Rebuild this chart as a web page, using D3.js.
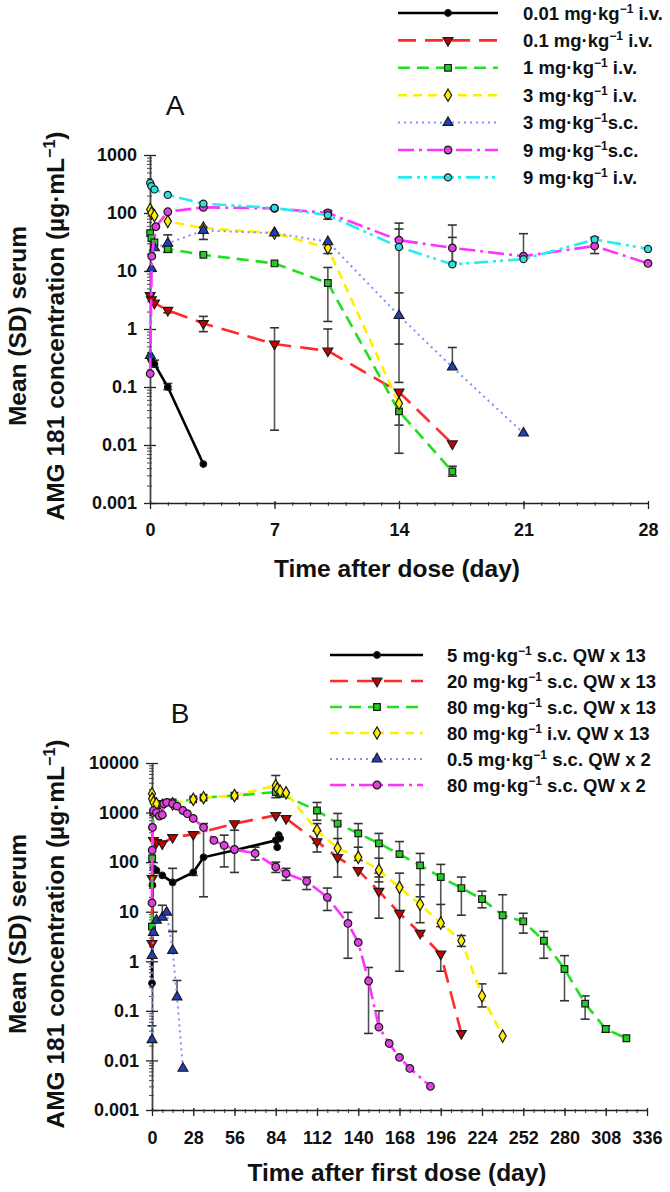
<!DOCTYPE html>
<html><head><meta charset="utf-8">
<script src="https://cdn.jsdelivr.net/npm/d3@7"></script>
<style>body{margin:0;background:#fff}svg{display:block}text{font-family:"Liberation Sans",Arial,sans-serif}</style>
</head><body><svg id="c" width="670" height="1192"></svg>
<script>
// ---------------- Panel A data (day, µg/mL) ----------------
const legendA = ["0.01 mg·kg⁻¹ i.v.","0.1 mg·kg⁻¹ i.v.","1 mg·kg⁻¹ i.v.","3 mg·kg⁻¹ i.v.","3 mg·kg⁻¹s.c.","9 mg·kg⁻¹s.c.","9 mg·kg⁻¹ i.v."];
const xTicksA = [0,7,14,21,28];
const yTicksA = [0.001,0.01,0.1,1,10,100,1000];
const yTickLabelsA = ["0.001","0.01","0.1","1","10","100","1000"];

const tA1 = [0.01,0.08,0.25,1,3];
const vA1 = [0.33,0.29,0.25,0.10,0.0047];
const hiA1 = [null,null,0.29,0.115,null];
const loA1 = [null,null,0.22,0.09,null];

const tA2 = [0.01,0.08,0.25,1,3,7,10,14,17];
const vA2 = [3.8,3.2,2.8,2.1,1.25,0.55,0.42,0.082,0.0105];
const hiA2 = [null,null,null,2.3,1.65,1.05,1.0,null,null];
const loA2 = [null,null,null,1.9,0.9,0.018,null,0.022,null];

const tA3 = [0.01,0.08,0.25,1,3,7,10,14,17];
const vA3 = [45,37,31,24,19,13.5,6.2,0.038,0.0035];
const hiA3 = [null,null,null,null,null,null,11.5,null,0.0043];
const loA3 = [null,null,null,21,null,null,1.35,0.0072,0.0029];

const tA4 = [0.01,0.08,0.25,1,3,7,10,14];
const vA4 = [115,100,90,72,55,45,25,0.052];
const hiA4 = [null,null,null,null,null,null,30,null];
const loA4 = [null,null,null,null,null,null,20,null];

const tA5 = [0.02,0.08,0.25,1,3,7,10,14,17,21];
const vA5 = [0.35,11,25,30,50,45,32,1.7,0.22,0.016];
const hiA5 = [null,null,null,42,57,null,null,4.2,0.48,null];
const loA5 = [null,null,null,21,35,null,null,0.12,null,null];

const tA6 = [0.01,0.1,0.33,1,3,7,10,14,17,21,25,28];
const vA6 = [0.17,18,58,105,125,120,100,34,25,18,27,13.5];
const hiA6 = [null,null,null,null,null,null,null,67,62,44,38,null];
const loA6 = [null,null,null,null,null,null,null,0.55,14,null,20,null];

const tA7 = [0.01,0.08,0.25,1,3,7,10,14,17,21,25,28];
const vA7 = [330,290,255,205,145,122,92,26,13,16,35,24];
const hiA7 = [null,null,null,null,null,null,110,53,38,null,null,null];
const loA7 = [null,null,null,null,null,null,78,null,null,null,null,null];

// ---------------- Panel B data ----------------
const legendB = ["5 mg·kg⁻¹ s.c. QW x 13","20 mg·kg⁻¹ s.c. QW x 13","80 mg·kg⁻¹ s.c. QW x 13","80 mg·kg⁻¹ i.v. QW x 13","0.5 mg·kg⁻¹ s.c. QW x 2","80 mg·kg⁻¹ s.c. QW x 2"];
const xTicksB = [0,28,56,84,112,140,168,196,224,252,280,308,336];
const yTicksB = [0.001,0.01,0.1,1,10,100,1000,10000];
const yTickLabelsB = ["0.001","0.01","0.1","1","10","100","1000","10000"];

const tB1 = [0,0.3,1,3,7,14,28,35,56,84,85,86,87];
const vB1 = [0.36,34,75,68,54,39,62,125,173,275,200,350,300];
const hiB1 = [null,null,null,null,null,75,400,600,null,null,null,null,null];
const loB1 = [null,null,null,null,null,4,54,20,null,null,null,null,null];

const tB2 = [0,0.1,1,3,7,14,28,56,84,91,112,126,140,154,168,182,196,210];
const vB2 = [2.3,47,275,250,236,316,363,600,880,760,260,125,68,26,9.3,3.7,1.4,0.035];
const hiB2 = [null,null,null,null,null,null,null,null,null,null,420,null,null,60,null,null,null,null];
const loB2 = [null,null,null,null,null,null,null,null,null,null,160,null,null,7.4,0.63,null,0.63,null];

const tB3 = [0,0.1,1,3,7,14,28,35,56,84,87,112,126,140,154,168,182,196,210,224,238,252,266,280,294,308,322];
const vB3 = [5,120,1000,1400,1500,1600,1850,2000,2200,2600,2400,1100,600,380,240,145,86,50,30,18,8.5,6.4,2.6,0.7,0.14,0.043,0.028];
const hiB3 = [null,null,null,null,null,null,null,null,null,null,null,1600,960,600,380,260,150,90,50,26,22,9.3,4,1.3,0.2,0.05,null];
const loB3 = [null,null,null,null,null,null,null,null,null,null,null,700,50,108,50,null,20,5,8.5,12,0.57,3.7,1.15,0.16,0.068,0.037,null];

const tB4 = [0,0.1,1,3,7,14,28,35,56,84,85,87,91,112,126,140,154,168,182,196,210,224,238];
const vB4 = [2400,1900,1600,1500,1400,1500,1850,2000,2200,3500,3000,2700,2500,440,190,125,69,31,14,5.9,2.6,0.2,0.031];
const hiB4 = [null,null,null,null,null,null,null,null,null,5600,null,null,null,600,300,200,120,60,35,14,3.3,0.35,null];
const loB4 = [null,null,null,null,null,null,null,null,null,2000,null,null,null,240,null,null,40,10,6,null,2,0.12,null];

const tB5 = [0,0.1,1,3,7,10,14,17,21];
const vB5 = [0.026,1.3,3.8,6.7,7.7,9.7,1.65,0.19,0.0069];
const hiB5 = [0.05,null,null,null,13.5,null,4,0.41,null];
const loB5 = [null,null,null,null,null,null,null,null,null];

const tB6 = [0,0.1,0.3,1,3,5,7,8,10,14,17,21,24,28,35,42,49,56,70,84,91,105,119,133,140,147,154,161,168,175,189];
const vB6 = [15,174,500,1100,1000,850,900,1500,1600,1500,1350,1100,950,760,500,275,218,180,150,80,59,41,19.5,5.8,2.4,0.4,0.047,0.022,0.0115,0.0069,0.003];
const hiB6 = [null,null,null,null,null,null,null,null,null,null,null,null,null,null,null,null,350,440,200,100,75,50,30,9.7,null,0.75,0.1,null,null,null,null];
const loB6 = [null,null,null,null,null,null,null,null,null,null,null,null,null,null,null,null,80,62,110,62,43,28,10.6,1.15,null,0.035,null,null,null,null,null];

// ---------------- Styles ----------------
const lineColorsA = ["#000000","#ff2b2b","#22dd22","#ffee00","#7f8cff","#ff33ff","#22eeee"];
const markFillA   = ["#000000","#c80000","#22cc22","#ffee00","#1f3fbf","#e040e0","#33dddd"];
const dashA = ["", "18,9", "12,7", "9,6", "2,4", "16,5,3,5", "14,5,3,4,3,5"];
const symA = ["dot","down","square","diamond","up","circle","circlesmall"];

const lineColorsB = ["#000000","#ff2b2b","#22dd22","#ffee00","#7f8cff","#ff33ff"];
const markFillB   = ["#000000","#c80000","#22cc22","#ffee00","#1f3fbf","#e040e0"];
const dashB = ["", "18,9", "12,7", "9,6", "2,4", "16,5,3,5"];
const symB = ["dot","down","square","diamond","up","circle"];

const svg = d3.select("#c");
const FONT = "'Liberation Sans', Arial, sans-serif";

function addLabel(sel, str, supSize, supDy) {
  const parts = str.split("⁻¹");
  sel.append("tspan").text(parts[0]);
  for (let i = 1; i < parts.length; i++) {
    sel.append("tspan").attr("dy", -supDy).attr("font-size", supSize).text("−1");
    sel.append("tspan").attr("dy", supDy).text(parts[i] === "" ? "\u200b" : parts[i]);
  }
}

function symPath(kind) {
  if (kind === "dot") return {p: d3.symbol().type(d3.symbolCircle).size(34)(), r: 0};
  if (kind === "circle") return {p: d3.symbol().type(d3.symbolCircle).size(46)(), r: 0};
  if (kind === "circlesmall") return {p: d3.symbol().type(d3.symbolCircle).size(40)(), r: 0};
  if (kind === "square") return {p: d3.symbol().type(d3.symbolSquare).size(44)(), r: 0};
  if (kind === "diamond") return {p: d3.symbol().type(d3.symbolDiamond).size(44)(), r: 0};
  if (kind === "up") return {p: d3.symbol().type(d3.symbolTriangle).size(42)(), r: 0};
  if (kind === "down") return {p: d3.symbol().type(d3.symbolTriangle).size(42)(), r: 180};
}

function buildSeries(ts, vs, his, los) {
  return ts.map((t, i) => ({t: t, v: vs[i], hi: his[i], lo: los[i]}));
}

function drawPanel(cfg) {
  const x = cfg.x, y = cfg.y;
  const g = svg.append("g");
  const y0 = y.range()[0];

  const ya = g.append("g").attr("transform", `translate(${x.range()[0]},0)`)
    .call(d3.axisLeft(y).tickValues(cfg.yTicks).tickFormat((d, i) => cfg.yLabels[i]).tickSizeInner(6).tickSizeOuter(0).tickPadding(7));
  ya.selectAll(".tick line").attr("x1", 6).attr("stroke", "#222").attr("stroke-width", 1.3);
  ya.select(".domain").attr("stroke", "#444").attr("stroke-width", 1.8);
  ya.selectAll("text").attr("font-family", FONT).attr("font-weight", "bold").attr("font-size", 18).attr("fill", "#111");
  const minors = [];
  for (let e = Math.log10(cfg.yTicks[0]); e < Math.log10(cfg.yTicks[cfg.yTicks.length - 1]); e++)
    for (let m = 2; m <= 9; m++) minors.push(m * Math.pow(10, e));
  const ym = g.append("g").attr("transform", `translate(${x.range()[0]},0)`)
    .call(d3.axisLeft(y).tickValues(minors).tickFormat("").tickSizeInner(3).tickSizeOuter(0));
  ym.select(".domain").remove();
  ym.selectAll(".tick line").attr("x1", 2).attr("stroke", "#444");

  const xa = g.append("g").attr("transform", `translate(0,${y0})`)
    .call(d3.axisBottom(x).tickValues(cfg.xTicks).tickSizeInner(6).tickSizeOuter(0).tickPadding(cfg.xPad));
  xa.selectAll(".tick line").attr("y1", -2).attr("stroke", "#222").attr("stroke-width", 1.3);
  xa.select(".domain").attr("stroke", "#222").attr("stroke-width", 1.6);
  xa.selectAll("text").attr("font-family", FONT).attr("font-weight", "bold").attr("font-size", 18).attr("fill", "#111");
  const xm = g.append("g").attr("transform", `translate(0,${y0})`)
    .call(d3.axisBottom(x).tickValues(d3.range(cfg.xMinorStep, x.domain()[1], cfg.xMinorStep)).tickFormat("").tickSizeInner(3).tickSizeOuter(0));
  xm.select(".domain").remove();
  xm.selectAll(".tick line").attr("y1", -1).attr("stroke", "#333");

  const eg = g.append("g");
  cfg.series.forEach(s => {
    s.data.forEach(d => {
      [d.hi, d.lo].forEach(b => {
        if (b == null) return;
        eg.append("line").attr("x1", x(d.t)).attr("x2", x(d.t)).attr("y1", y(d.v)).attr("y2", y(b))
          .attr("stroke", "#555").attr("stroke-width", 1.6);
        eg.append("line").attr("x1", x(d.t) - 4.5).attr("x2", x(d.t) + 4.5).attr("y1", y(b)).attr("y2", y(b))
          .attr("stroke", "#333").attr("stroke-width", 1.6);
      });
    });
  });

  const line = d3.line().x(d => x(d.t)).y(d => y(d.v));
  cfg.series.forEach(s => {
    g.append("path").datum(s.data).attr("d", line).attr("fill", "none")
      .attr("stroke", s.color).attr("stroke-width", s.sym === "up" ? 2 : 2.6)
      .attr("stroke-dasharray", s.dash || null);
    const sp = symPath(s.sym);
    g.append("g").selectAll("path").data(s.data).join("path")
      .attr("d", sp.p)
      .attr("transform", d => `translate(${x(d.t)},${y(d.v)}) rotate(${sp.r})`)
      .attr("fill", s.fill).attr("stroke", "#1a1a1a").attr("stroke-width", 1.2);
  });

  const L = cfg.legend;
  cfg.series.forEach((s, i) => {
    const ry = L.y0 + i * L.dy;
    g.append("line").attr("x1", L.x1).attr("x2", L.x2).attr("y1", ry).attr("y2", ry)
      .attr("stroke", s.color).attr("stroke-width", s.sym === "up" ? 2 : 2.6).attr("stroke-dasharray", s.dash || null);
    const sp = symPath(s.sym);
    g.append("path").attr("d", sp.p).attr("transform", `translate(${L.mx},${ry}) rotate(${sp.r})`)
      .attr("fill", s.fill).attr("stroke", "#1a1a1a").attr("stroke-width", 1.2);
    const t = g.append("text").attr("x", L.tx).attr("y", ry + 6.5)
      .attr("font-family", FONT).attr("font-weight", "bold").attr("font-size", 18.5).attr("fill", "#111");
    addLabel(t, s.label, 12, 7);
  });

  g.append("text").attr("x", cfg.letter[0]).attr("y", cfg.letter[1]).attr("text-anchor", "middle")
    .attr("font-family", FONT).attr("font-size", 28).attr("fill", "#111").text(cfg.letterText);
  g.append("text").attr("x", cfg.xTitle[0]).attr("y", cfg.xTitle[1]).attr("text-anchor", "middle")
    .attr("font-family", FONT).attr("font-weight", "bold").attr("font-size", 24.5).attr("fill", "#111").text(cfg.xTitleText);
  g.append("text").attr("transform", `translate(26,${cfg.yTitleC}) rotate(-90)`).attr("text-anchor", "middle")
    .attr("font-family", FONT).attr("font-weight", "bold").attr("font-size", 24.5).attr("fill", "#111").text("Mean (SD) serum");
  const yt2 = g.append("text").attr("transform", `translate(64,${cfg.yTitleC}) rotate(-90)`).attr("text-anchor", "middle")
    .attr("font-family", FONT).attr("font-weight", "bold").attr("font-size", 24.5).attr("fill", "#111");
  addLabel(yt2, "AMG 181 concentration (µg·mL⁻¹)", 16, 9);
}

const seriesA = [
  buildSeries(tA1, vA1, hiA1, loA1), buildSeries(tA2, vA2, hiA2, loA2), buildSeries(tA3, vA3, hiA3, loA3),
  buildSeries(tA4, vA4, hiA4, loA4), buildSeries(tA5, vA5, hiA5, loA5), buildSeries(tA6, vA6, hiA6, loA6),
  buildSeries(tA7, vA7, hiA7, loA7)
].map((d, i) => ({data: d, label: legendA[i], color: lineColorsA[i], fill: markFillA[i], dash: dashA[i], sym: symA[i]}));

const seriesB = [
  buildSeries(tB1, vB1, hiB1, loB1), buildSeries(tB2, vB2, hiB2, loB2), buildSeries(tB3, vB3, hiB3, loB3),
  buildSeries(tB4, vB4, hiB4, loB4), buildSeries(tB5, vB5, hiB5, loB5), buildSeries(tB6, vB6, hiB6, loB6)
].map((d, i) => ({data: d, label: legendB[i], color: lineColorsB[i], fill: markFillB[i], dash: dashB[i], sym: symB[i]}));

drawPanel({
  x: d3.scaleLinear().domain([0, 28]).range([150, 648]),
  y: d3.scaleLog().domain([0.001, 1000]).range([503, 155]),
  xTicks: xTicksA, yTicks: yTicksA, yLabels: yTickLabelsA, xMinorStep: 1, xPad: 14,
  series: seriesA,
  legend: {y0: 13, dy: 27.4, x1: 398, x2: 498, mx: 448, tx: 523},
  letter: [175, 115], letterText: "A",
  xTitle: [397, 577], xTitleText: "Time after dose (day)",
  yTitleC: 326
});

drawPanel({
  x: d3.scaleLinear().domain([0, 336]).range([152, 647]),
  y: d3.scaleLog().domain([0.001, 10000]).range([1110, 763]),
  xTicks: xTicksB, yTicks: yTicksB, yLabels: yTickLabelsB, xMinorStep: 7, xPad: 15,
  series: seriesB,
  legend: {y0: 655, dy: 26, x1: 330, x2: 423, mx: 377, tx: 447},
  letter: [180, 723], letterText: "B",
  xTitle: [397, 1181], xTitleText: "Time after first dose (day)",
  yTitleC: 934
});
</script></body></html>
